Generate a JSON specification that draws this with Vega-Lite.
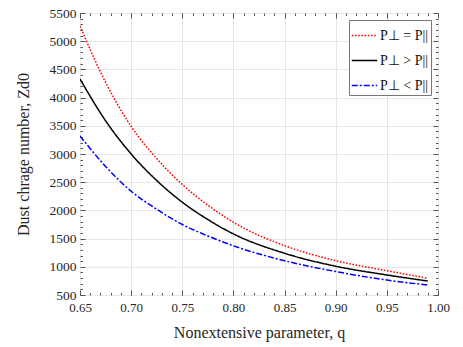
{
  "$schema": "https://vega.github.io/schema/vega-lite/v6.json",
  "width": 358,
  "height": 282,
  "autosize": "none",
  "padding": {"left": 80, "top": 13, "right": 25, "bottom": 52},
  "background": "white",
  "config": {
    "font": "Liberation Serif",
    "view": {"stroke": "#555555", "strokeWidth": 1},
    "axis": {
      "labelFont": "Liberation Serif",
      "titleFont": "Liberation Serif",
      "labelColor": "#262626",
      "titleColor": "#262626",
      "titleFontWeight": "normal",
      "domain": false,
      "labelFlush": false,
      "gridColor": "#e6e6e6",
      "gridWidth": 1,
      "tickColor": "#555555"
    }
  },
  "datasets": {
    "curves": [
      {"q": 0.65, "Z": 5270, "case": "P⊥ = P||"},
      {"q": 0.675, "Z": 4270, "case": "P⊥ = P||"},
      {"q": 0.70, "Z": 3490, "case": "P⊥ = P||"},
      {"q": 0.725, "Z": 2920, "case": "P⊥ = P||"},
      {"q": 0.75, "Z": 2460, "case": "P⊥ = P||"},
      {"q": 0.775, "Z": 2093, "case": "P⊥ = P||"},
      {"q": 0.80, "Z": 1790, "case": "P⊥ = P||"},
      {"q": 0.85, "Z": 1375, "case": "P⊥ = P||"},
      {"q": 0.90, "Z": 1109, "case": "P⊥ = P||"},
      {"q": 0.95, "Z": 931, "case": "P⊥ = P||"},
      {"q": 0.99, "Z": 798, "case": "P⊥ = P||"},
      {"q": 0.65, "Z": 4330, "case": "P⊥ > P||"},
      {"q": 0.675, "Z": 3590, "case": "P⊥ > P||"},
      {"q": 0.70, "Z": 3000, "case": "P⊥ > P||"},
      {"q": 0.725, "Z": 2530, "case": "P⊥ > P||"},
      {"q": 0.75, "Z": 2145, "case": "P⊥ > P||"},
      {"q": 0.775, "Z": 1838, "case": "P⊥ > P||"},
      {"q": 0.80, "Z": 1583, "case": "P⊥ > P||"},
      {"q": 0.85, "Z": 1240, "case": "P⊥ > P||"},
      {"q": 0.90, "Z": 1010, "case": "P⊥ > P||"},
      {"q": 0.95, "Z": 855, "case": "P⊥ > P||"},
      {"q": 0.99, "Z": 748, "case": "P⊥ > P||"},
      {"q": 0.65, "Z": 3320, "case": "P⊥ < P||"},
      {"q": 0.675, "Z": 2780, "case": "P⊥ < P||"},
      {"q": 0.70, "Z": 2340, "case": "P⊥ < P||"},
      {"q": 0.725, "Z": 2020, "case": "P⊥ < P||"},
      {"q": 0.75, "Z": 1750, "case": "P⊥ < P||"},
      {"q": 0.775, "Z": 1547, "case": "P⊥ < P||"},
      {"q": 0.80, "Z": 1372, "case": "P⊥ < P||"},
      {"q": 0.85, "Z": 1108, "case": "P⊥ < P||"},
      {"q": 0.90, "Z": 916, "case": "P⊥ < P||"},
      {"q": 0.95, "Z": 766, "case": "P⊥ < P||"},
      {"q": 0.99, "Z": 676, "case": "P⊥ < P||"}
    ]
  },
  "layer": [
    {
      "data": {"name": "curves"},
      "mark": {"type": "line", "strokeWidth": 1.5, "interpolate": "monotone", "clip": true},
      "encoding": {
        "x": {
          "field": "q", "type": "quantitative",
          "scale": {"domain": [0.65, 1.0], "nice": false, "zero": false},
          "axis": {
            "orient": "bottom",
            "values": [0.65, 0.7, 0.75, 0.8, 0.85, 0.9, 0.95, 1.0],
            "format": ".2f", "grid": true, "ticks": false, "labelFlush": false,
            "labelFont": "Liberation Serif", "labelFontSize": 13, "labelPadding": 6,
            "title": "Nonextensive parameter, q", "titleFont": "Liberation Serif", "titleFontSize": 16, "titlePadding": 10
          }
        },
        "y": {
          "field": "Z", "type": "quantitative",
          "scale": {"domain": [500, 5500], "nice": false, "zero": false},
          "axis": {
            "orient": "left",
            "values": [500, 1000, 1500, 2000, 2500, 3000, 3500, 4000, 4500, 5000, 5500],
            "format": "d", "grid": true, "ticks": false, "labelFlush": false,
            "labelFont": "Liberation Serif", "labelFontSize": 13.5, "labelPadding": 4,
            "title": "Dust chrage number, Zd0", "titleFont": "Liberation Serif", "titleFontSize": 16, "titlePadding": 18
          }
        },
        "color": {
          "field": "case", "type": "nominal",
          "scale": {"domain": ["P⊥ = P||", "P⊥ > P||", "P⊥ < P||"], "range": ["#ff0000", "#000000", "#0000ff"]},
          "legend": {
            "orient": "top-right", "offset": 7, "title": null,
            "strokeColor": "#777777", "fillColor": "white", "padding": 2,
            "labelFont": "Liberation Serif", "labelFontSize": 14, "labelColor": "#111111",
            "symbolType": "stroke", "symbolSize": 650, "symbolStrokeWidth": 1.5,
            "rowPadding": 4, "labelOffset": 2, "labelLimit": 200
          }
        },
        "strokeDash": {
          "field": "case", "type": "nominal",
          "scale": {"domain": ["P⊥ = P||", "P⊥ > P||", "P⊥ < P||"], "range": [[1.6, 1.6], [1, 0], [6, 2, 2, 2]]}
        }
      }
    },
    {
      "data": {"name": "curves"},
      "mark": {"type": "point", "opacity": 0},
      "encoding": {
        "x": {"field": "q", "type": "quantitative", "scale": {"domain": [0.65, 1.0], "nice": false, "zero": false},
          "axis": {"orient": "bottom", "values": [0.65, 0.7, 0.75, 0.8, 0.85, 0.9, 0.95, 1.0], "labels": false, "grid": false, "ticks": true, "tickSize": -5, "title": null}},
        "y": {"field": "Z", "type": "quantitative", "scale": {"domain": [500, 5500], "nice": false, "zero": false},
          "axis": {"orient": "left", "values": [500, 1000, 1500, 2000, 2500, 3000, 3500, 4000, 4500, 5000, 5500], "labels": false, "grid": false, "ticks": true, "tickSize": -5, "title": null}}
      }
    },
    {
      "data": {"name": "curves"},
      "mark": {"type": "point", "opacity": 0},
      "encoding": {
        "x": {"field": "q", "type": "quantitative", "scale": {"domain": [0.65, 1.0], "nice": false, "zero": false},
          "axis": {"orient": "top", "values": [0.65, 0.7, 0.75, 0.8, 0.85, 0.9, 0.95, 1.0], "labels": false, "grid": false, "ticks": true, "tickSize": -5, "title": null}},
        "y": {"field": "Z", "type": "quantitative", "scale": {"domain": [500, 5500], "nice": false, "zero": false},
          "axis": {"orient": "right", "values": [500, 1000, 1500, 2000, 2500, 3000, 3500, 4000, 4500, 5000, 5500], "labels": false, "grid": false, "ticks": true, "tickSize": -5, "title": null}}
      }
    },
    {
      "data": {"name": "curves"},
      "mark": {"type": "point", "opacity": 0},
      "encoding": {
        "x": {"field": "q", "type": "quantitative", "scale": {"domain": [0.65, 1.0], "nice": false, "zero": false},
          "axis": {"orient": "bottom", "values": [0.65, 0.66, 0.67, 0.68, 0.69, 0.7, 0.71, 0.72, 0.73, 0.74, 0.75, 0.76, 0.77, 0.78, 0.79, 0.8, 0.81, 0.82, 0.83, 0.84, 0.85, 0.86, 0.87, 0.88, 0.89, 0.9, 0.91, 0.92, 0.93, 0.94, 0.95, 0.96, 0.97, 0.98, 0.99, 1.0], "labels": false, "grid": false, "ticks": true, "tickSize": -2.5, "title": null}},
        "y": {"field": "Z", "type": "quantitative", "scale": {"domain": [500, 5500], "nice": false, "zero": false},
          "axis": {"orient": "left", "values": [600, 700, 800, 900, 1100, 1200, 1300, 1400, 1600, 1700, 1800, 1900, 2100, 2200, 2300, 2400, 2600, 2700, 2800, 2900, 3100, 3200, 3300, 3400, 3600, 3700, 3800, 3900, 4100, 4200, 4300, 4400, 4600, 4700, 4800, 4900, 5100, 5200, 5300, 5400], "labels": false, "grid": false, "ticks": true, "tickSize": -2.5, "title": null}}
      }
    },
    {
      "data": {"name": "curves"},
      "mark": {"type": "point", "opacity": 0},
      "encoding": {
        "x": {"field": "q", "type": "quantitative", "scale": {"domain": [0.65, 1.0], "nice": false, "zero": false},
          "axis": {"orient": "top", "values": [0.65, 0.66, 0.67, 0.68, 0.69, 0.7, 0.71, 0.72, 0.73, 0.74, 0.75, 0.76, 0.77, 0.78, 0.79, 0.8, 0.81, 0.82, 0.83, 0.84, 0.85, 0.86, 0.87, 0.88, 0.89, 0.9, 0.91, 0.92, 0.93, 0.94, 0.95, 0.96, 0.97, 0.98, 0.99, 1.0], "labels": false, "grid": false, "ticks": true, "tickSize": -2.5, "title": null}},
        "y": {"field": "Z", "type": "quantitative", "scale": {"domain": [500, 5500], "nice": false, "zero": false},
          "axis": {"orient": "right", "values": [600, 700, 800, 900, 1100, 1200, 1300, 1400, 1600, 1700, 1800, 1900, 2100, 2200, 2300, 2400, 2600, 2700, 2800, 2900, 3100, 3200, 3300, 3400, 3600, 3700, 3800, 3900, 4100, 4200, 4300, 4400, 4600, 4700, 4800, 4900, 5100, 5200, 5300, 5400], "labels": false, "grid": false, "ticks": true, "tickSize": -2.5, "title": null}}
      }
    }
  ],
  "resolve": {"axis": {"x": "independent", "y": "independent"}}
}
